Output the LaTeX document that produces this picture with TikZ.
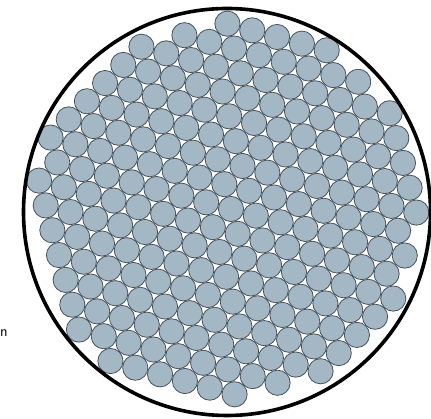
\documentclass[tikz,border=0pt]{standalone}
\usepackage{tikz}
\definecolor{grainBlue}{RGB}{163,183,196}
\definecolor{grainEdge}{RGB}{70,82,92}
\begin{document}
\begin{tikzpicture}[x=1pt,y=1pt,
    grain/.style={fill=grainBlue, draw=grainEdge, line width=0.8pt},
    rim/.style={draw=black, line width=3.6pt},
  ]
  \useasboundingbox (0,0) rectangle (431,419);

  % grains on a tilted hexagonal lattice
  \foreach \i in {-9,...,9}{
    \foreach \j in {-9,...,9}{
      \pgfmathsetmacro{\gx}{25.7*\i*cos(-15)+25.7*\j*cos(45)+4}
      \pgfmathsetmacro{\gy}{25.7*\i*sin(-15)+25.7*\j*sin(45)+3}
      \pgfmathtruncatemacro{\inside}{veclen(\gx,\gy)<191.5 ? 1 : 0}
      \ifnum\inside=1
        \draw[grain] (227+\gx,207+\gy) circle (12.6);
      \fi
    }
  }

  % container
  \draw[rim] (227,207) circle (203.5);

  % label at the left edge
  \node[font=\sffamily\fontsize{15}{17}\selectfont, anchor=base west, inner sep=0pt] (cut) at (0,82) {n};
\end{tikzpicture}
\end{document}
